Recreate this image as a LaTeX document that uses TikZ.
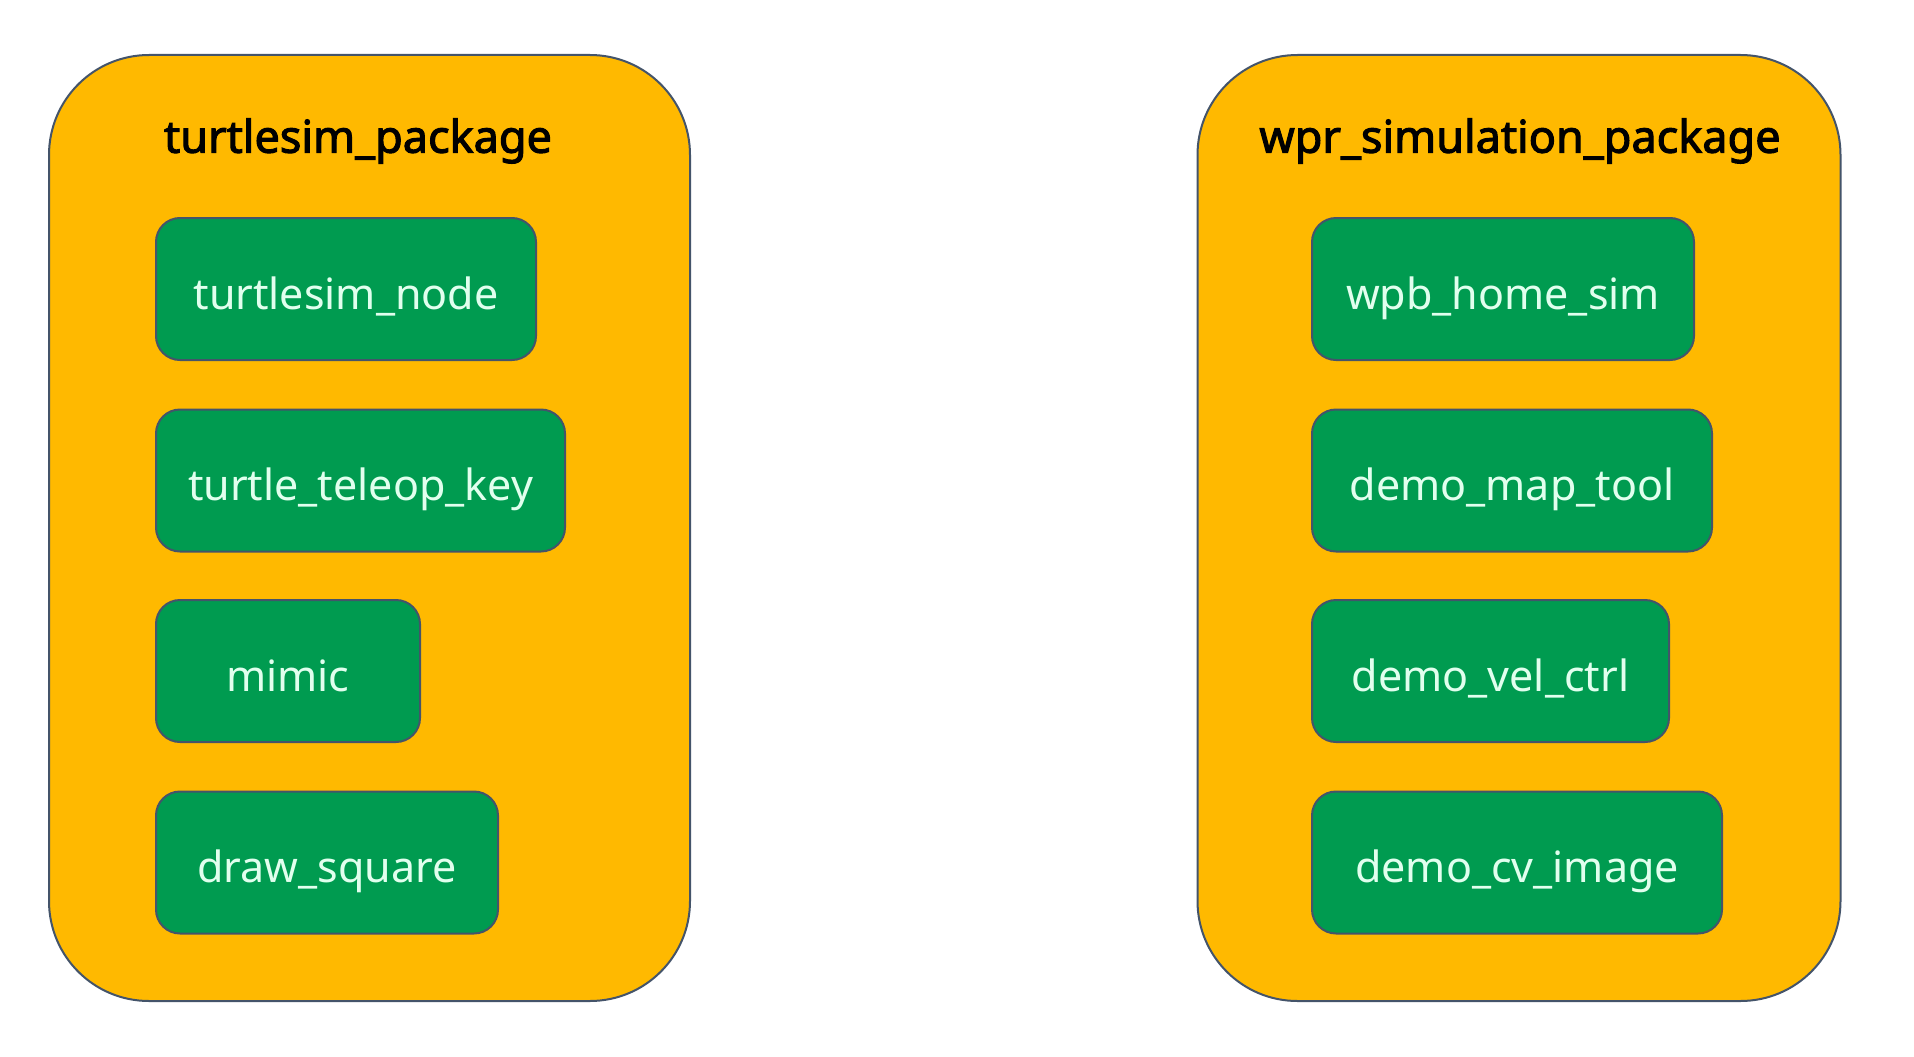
\documentclass[tikz,border=0pt]{standalone}
\usepackage{fontspec}
\setmainfont{Noto Sans}
\newfontfamily\titlefont{Noto Sans}[FakeBold=2.4]
\definecolor{pkgfill}{RGB}{255,185,0}
\definecolor{edge}{RGB}{68,84,106}
\definecolor{nodefill}{RGB}{0,155,80}
\definecolor{nodetext}{RGB}{225,255,238}
\tikzset{
  pkg/.style={draw=edge, line width=2pt, fill=pkgfill, rounded corners=100pt, inner sep=0pt},
  pkgtitle/.style={font=\titlefont\fontsize{45}{50}\selectfont, text=black, inner sep=0pt},
  rosnode/.style={draw=edge, line width=2pt, fill=nodefill, rounded corners=24pt, anchor=west,
    minimum height=142pt, inner sep=0pt, text height=46pt, text depth=6pt,
    text=nodetext, font=\fontsize{43}{48}\selectfont}
}
\begin{document}
\begin{tikzpicture}[x=1pt,y=-1pt]
\useasboundingbox[fill=white] (0,0) rectangle (1914,1057);
% left package
\node[pkg, minimum width=641pt, minimum height=946pt] (L) at (369.5,528) {};
\node[pkgtitle] (Lt) at (358,141) {turtlesim\_package};
\node[rosnode, minimum width=380pt] (l1) at (155,289) {turtlesim\_node};
\node[rosnode, minimum width=409pt] (l2) at (155,480.5) {turtle\_teleop\_key};
\node[rosnode, minimum width=264pt] (l3) at (155,671) {mimic};
\node[rosnode, minimum width=342pt] (l4) at (155,862.5) {draw\_square};
% right package
\node[pkg, minimum width=643pt, minimum height=946pt] (R) at (1519,528) {};
\node[pkgtitle] (Rt) at (1520,141) {wpr\_simulation\_package};
\node[rosnode, minimum width=382pt] (r1) at (1311,289) {wpb\_home\_sim};
\node[rosnode, minimum width=400pt] (r2) at (1311,480.5) {demo\_map\_tool};
\node[rosnode, minimum width=357pt] (r3) at (1311,671) {demo\_vel\_ctrl};
\node[rosnode, minimum width=410pt] (r4) at (1311,862.5) {demo\_cv\_image};
\end{tikzpicture}
\end{document}
